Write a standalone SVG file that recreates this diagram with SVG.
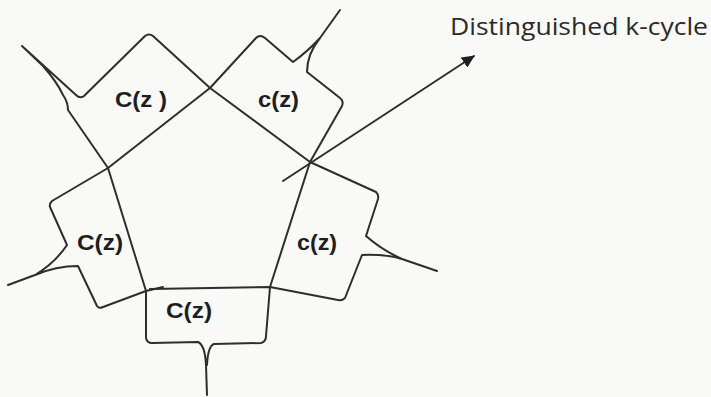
<svg xmlns="http://www.w3.org/2000/svg" width="711" height="397" viewBox="0 0 711 397">
<defs>
<style>
.ln{fill:none;stroke:#2e2e2e;stroke-width:2;stroke-linejoin:round;stroke-linecap:round}
.lb{font-family:"Liberation Sans",Arial,sans-serif;font-weight:bold;font-size:22px;fill:#1e1e1e}
.tt{font-family:"Open Sans","Liberation Sans",sans-serif;font-size:23px;fill:#2a2a2a}
</style>
<marker id="ah" markerWidth="14" markerHeight="12" refX="12" refY="6" orient="auto" markerUnits="userSpaceOnUse">
<path d="M0,0 L13,6 L0,12 Z" fill="#1e1e1e"/>
</marker>
</defs>
<rect width="711" height="397" fill="#f9f9f7"/>
<g id="box-top-left">
<path class="ln" d="M210 88 L153 36 Q149 33 145 36 L84 96 Q80 99 76 95 L22 46 L43 66 Q57 82 63 95 Q68 102 68 110 L108 168 L210 88"/>
<text class="lb" x="115" y="107" textLength="52" lengthAdjust="spacingAndGlyphs">C(z )</text>
</g>
<g id="box-top-right">
<path class="ln" d="M210 88 L256 38 Q260 34 265 38 L293 62 Q307 52 320 38 L340 10 L320 38 Q307 54 307 72 L340 98 Q344 101 342 106 L310 162 L210 88"/>
<text class="lb" x="258" y="107" textLength="41" lengthAdjust="spacingAndGlyphs">c(z)</text>
</g>
<g id="box-right">
<path class="ln" d="M310 162 L376 192 Q379 195 378 199 L366 236 Q382 250 402 259 L437 271 L402 259 Q385 254 362 255 L345 298 Q342 301 338 300 L270 287 L310 162"/>
<text class="lb" x="297" y="250" textLength="40" lengthAdjust="spacingAndGlyphs">c(z)</text>
</g>
<g id="box-bottom">
<path class="ln" d="M146 291 L146 338 Q147 343 152 343 L198 342 Q205 345 206 365 L207 395 M207 365 Q208 346 214 344 L261 343 Q266 342 266 336 L270 287 L150 289"/>
<text class="lb" x="166" y="318" textLength="46" lengthAdjust="spacingAndGlyphs">C(z)</text>
</g>
<g id="box-left">
<path class="ln" d="M108 168 L52 201 Q49 204 50 207 L67 245 Q55 263 35 275 L8 285 L35 275 Q56 266 78 266 L97 306 Q99 309 103 307 L146 291 L163 287 M146 291 L108 168"/>
<text class="lb" x="77" y="250" textLength="46" lengthAdjust="spacingAndGlyphs">C(z)</text>
</g>
<g id="label-cycle">
<text class="tt" x="450" y="35" textLength="258" lengthAdjust="spacingAndGlyphs">Distinguished k-cycle</text>
</g>
<g id="connectors">
<path class="ln" d="M283 181 L474 56" marker-end="url(#ah)"/>
</g>
</svg>
